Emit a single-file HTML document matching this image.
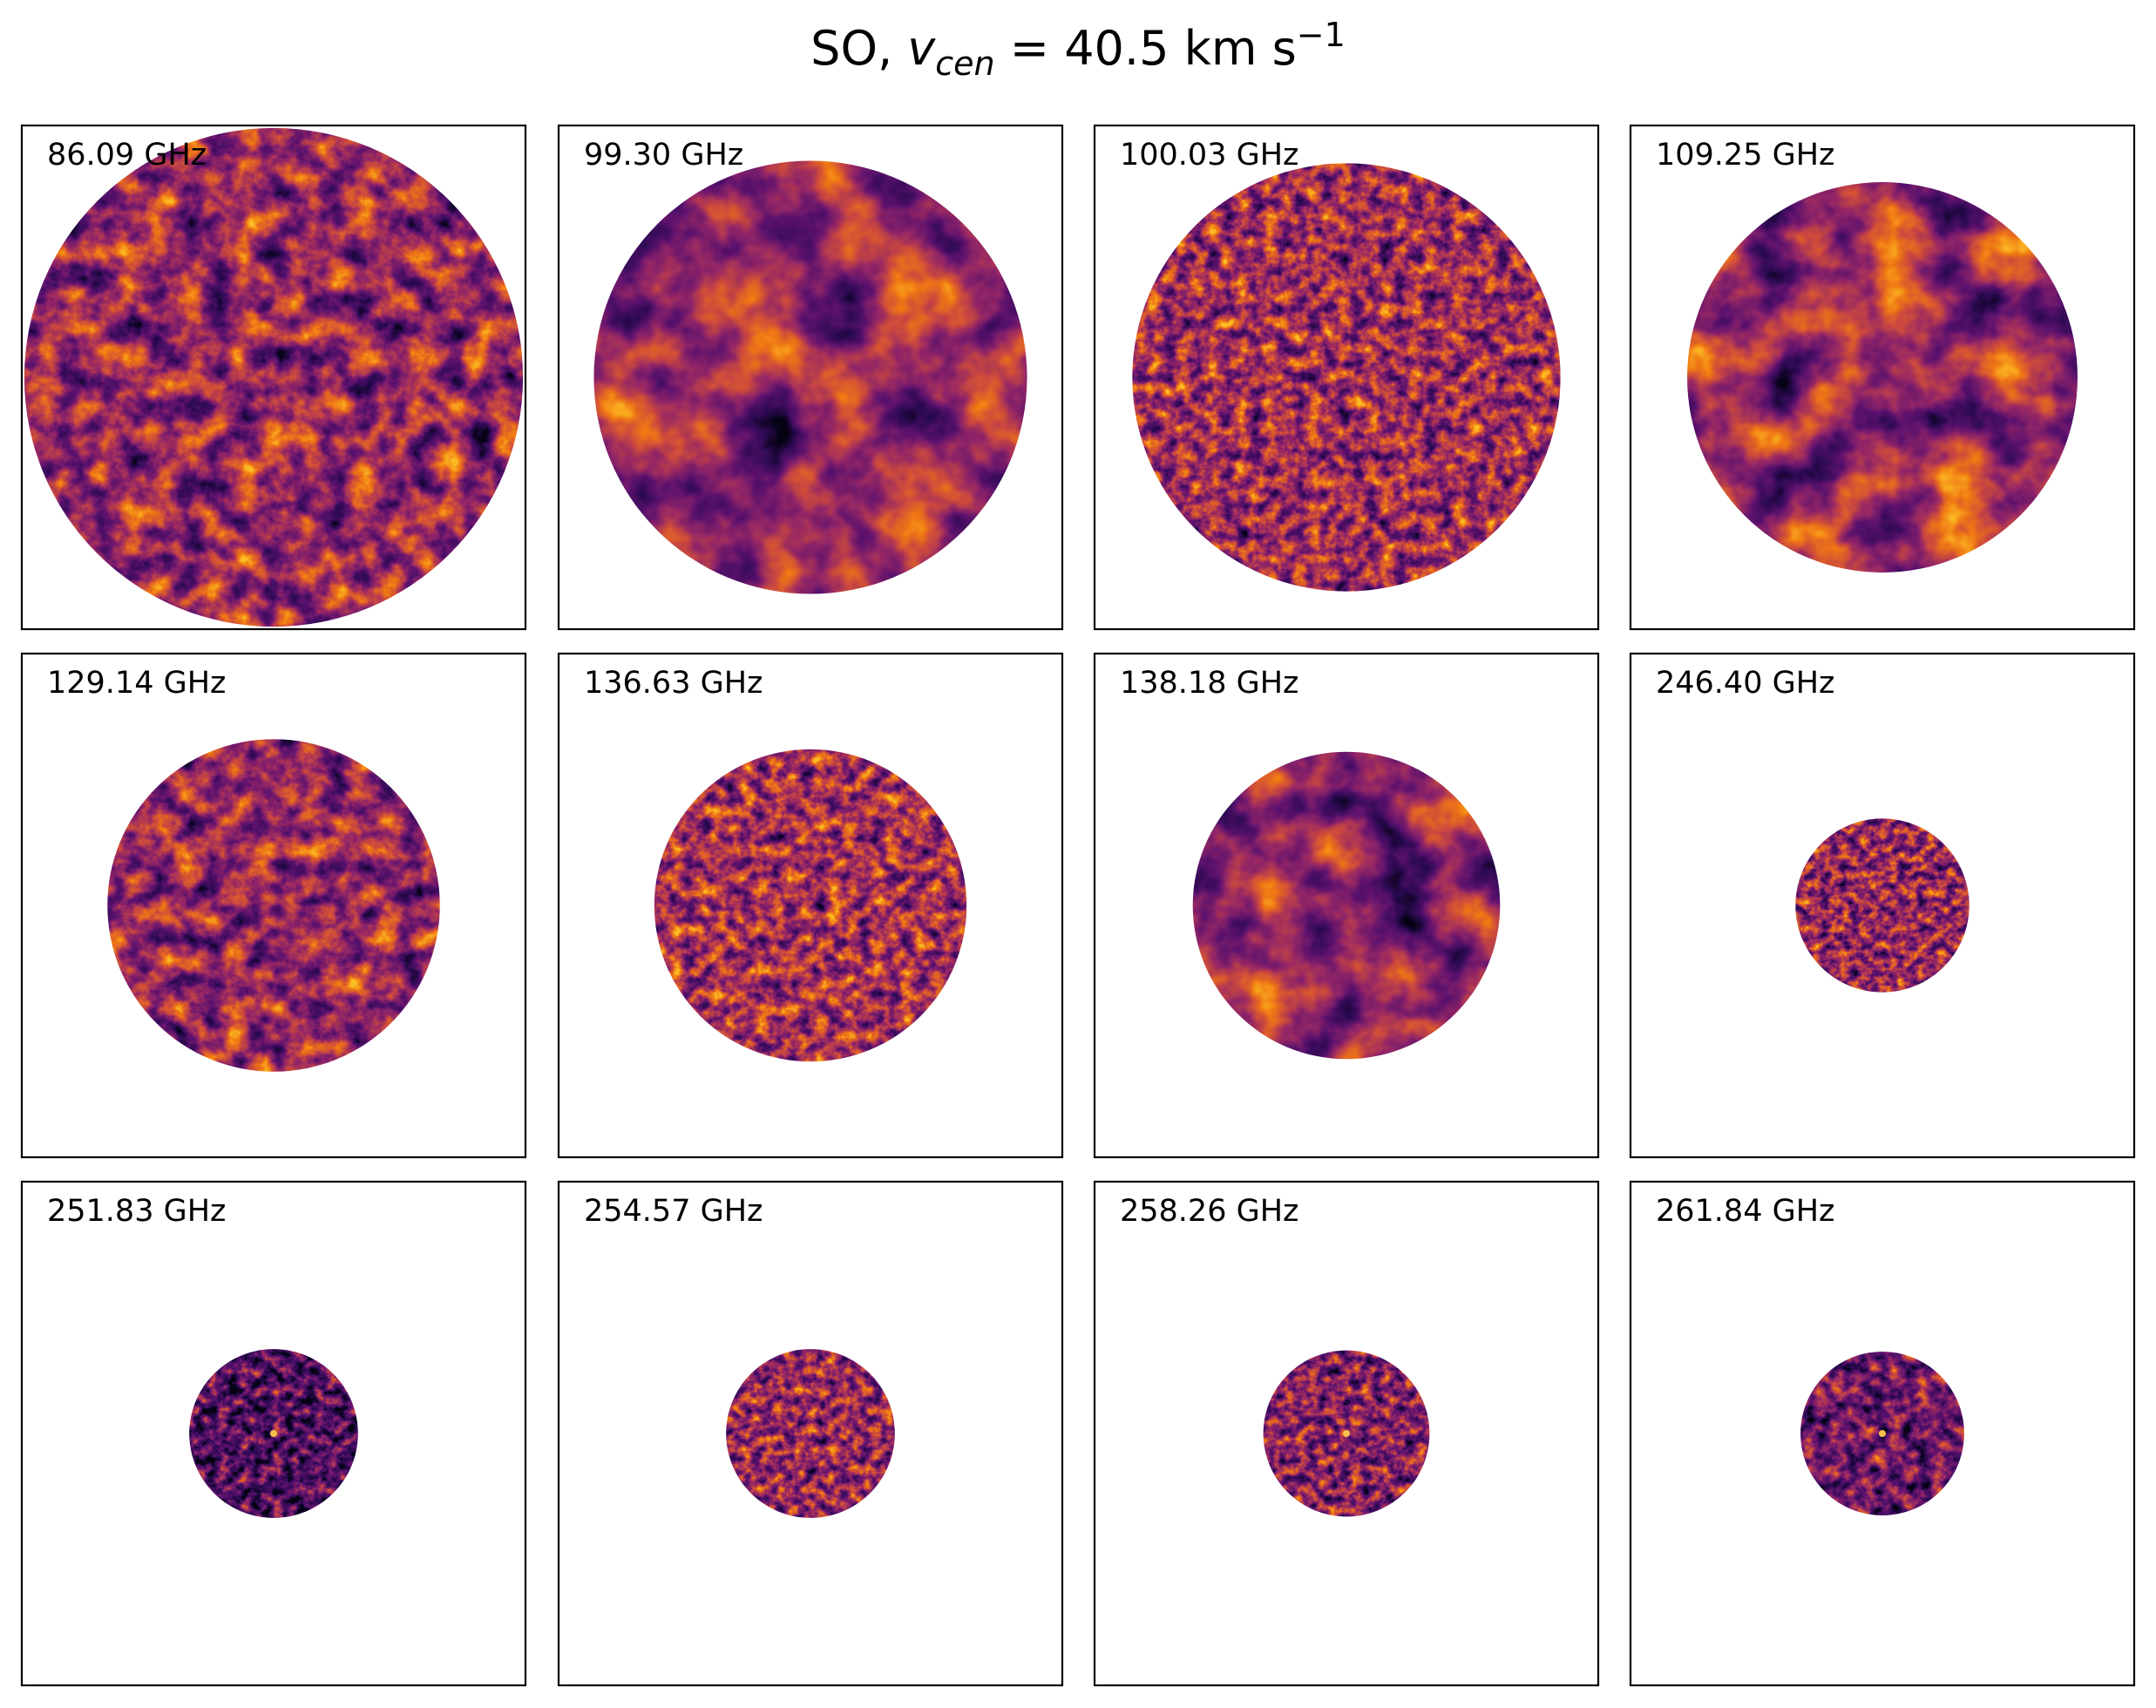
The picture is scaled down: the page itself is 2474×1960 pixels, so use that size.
<!DOCTYPE html>
<html><head><meta charset="utf-8">
<style>
html,body{margin:0;padding:0;background:#fff;}
svg{display:block;}
text{font-family:"DejaVu Sans","Liberation Sans",sans-serif;}
</style></head>
<body>
<svg id="fig" width="2474" height="1960" viewBox="0 0 2474 1960" xmlns="http://www.w3.org/2000/svg">
<text x="1237" y="74" font-size="54" text-anchor="middle">SO, <tspan font-style="italic">v</tspan><tspan font-style="italic" font-size="38" dy="12">cen</tspan><tspan dy="-12"> =  40.5 km s</tspan><tspan font-size="38" dy="-21">−1</tspan></text>
<defs id="defs"></defs>
<g id="panels"></g>
</svg>
<script>
// frequencies (GHz) per panel
const freqs = ["86.09","99.30","100.03","109.25","129.14","136.63","138.18","246.40","251.83","254.57","258.26","261.84"];
// map radius relative to panel half-width
const radii = [0.99,0.86,0.85,0.775,0.66,0.62,0.61,0.345,0.335,0.335,0.33,0.325];
// texture spatial frequency (noise scale)
const scales = [0.03,0.012,0.06,0.014,0.035,0.06,0.014,0.09,0.08,0.08,0.08,0.06];
// mean brightness offset (darker maps)
const bright = [0.0,0.0,0.03,0.0,0.0,0.05,-0.03,0.0,-0.22,0.0,-0.05,-0.12];

const NS="http://www.w3.org/2000/svg";
const defs=document.getElementById('defs');
const g=document.getElementById('panels');
const colX=[25,641,1256,1871], rowY=[144,750,1356], W=578;

freqs.forEach((f,i)=>{
  const px=colX[i%4], py=rowY[Math.floor(i/4)];
  const cx=px+W/2, cy=py+W/2, r=radii[i]*W/2;
  const flt=document.createElementNS(NS,'filter');
  flt.setAttribute('id','f'+i);
  flt.setAttribute('color-interpolation-filters','sRGB');
  flt.setAttribute('filterUnits','userSpaceOnUse');
  flt.setAttribute('x',px);flt.setAttribute('y',py);flt.setAttribute('width',W);flt.setAttribute('height',W);
  const b=bright[i];
  flt.innerHTML=`<feTurbulence type="fractalNoise" baseFrequency="${scales[i]} ${scales[i]*1.1}" numOctaves="4" seed="${i*7+3}" result="n"/>
  <feColorMatrix in="n" type="matrix" values="0 0 0 0 0  0 0 0 0 0  0 0 0 0 0  1.35 0 0 0 ${-0.17+b}" result="l"/>
  <feColorMatrix in="l" type="matrix" values="0 0 0 1 0  0 0 0 1 0  0 0 0 1 0  0 0 0 0 1" result="g"/>
  <feComponentTransfer in="g">
    <feFuncR type="table" tableValues="0.02 0.18 0.36 0.58 0.80 0.94 0.99"/>
    <feFuncG type="table" tableValues="0.01 0.04 0.07 0.15 0.29 0.47 0.74"/>
    <feFuncB type="table" tableValues="0.08 0.33 0.43 0.40 0.24 0.08 0.14"/>
  </feComponentTransfer>`;
  defs.appendChild(flt);
  const cp=document.createElementNS(NS,'clipPath');
  cp.setAttribute('id','c'+i);
  cp.innerHTML=`<rect x="${px}" y="${py}" width="${W}" height="${W}"/>`;
  defs.appendChild(cp);
  const cc=document.createElementNS(NS,'clipPath');
  cc.setAttribute('id','cc'+i);
  cc.innerHTML=`<circle cx="${cx}" cy="${cy}" r="${r}"/>`;
  defs.appendChild(cc);

  const pg=document.createElementNS(NS,'g');
  
  
  const grp=document.createElementNS(NS,'g');
  grp.setAttribute('clip-path','url(#c'+i+')');
  const grp2=document.createElementNS(NS,'g');
  grp2.setAttribute('clip-path','url(#cc'+i+')');
  const m=document.createElementNS(NS,'rect');
  
  
  m.setAttribute('x',px);m.setAttribute('y',py);m.setAttribute('width',W);m.setAttribute('height',W);
  m.setAttribute('fill','#000');
  m.setAttribute('filter','url(#f'+i+')');
  grp2.appendChild(m);
  if(i>=8 && i!==9){
    const s=document.createElementNS(NS,'circle');
    
    
    s.setAttribute('cx',cx);s.setAttribute('cy',cy);s.setAttribute('r',4);
    s.setAttribute('fill','#f6c04a');
    grp2.appendChild(s);
  }
  grp.appendChild(grp2);
  pg.appendChild(grp);
  const fr=document.createElementNS(NS,'rect');
  
  
  fr.setAttribute('x',px);fr.setAttribute('y',py);fr.setAttribute('width',W);fr.setAttribute('height',W);
  fr.setAttribute('fill','none');fr.setAttribute('stroke','#000');fr.setAttribute('stroke-width','2.2');
  pg.appendChild(fr);
  const t=document.createElementNS(NS,'text');
  
  
  t.setAttribute('x',px+29);t.setAttribute('y',py+45);
  t.setAttribute('font-size','35');
  t.textContent=f+' GHz';
  pg.appendChild(t);
  g.appendChild(pg);
});
</script>
</body></html>
